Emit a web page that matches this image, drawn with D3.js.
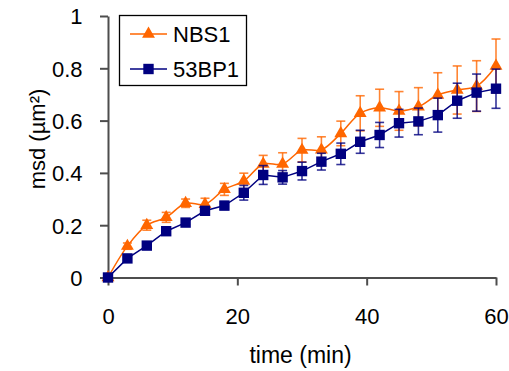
<!DOCTYPE html>
<html><head><meta charset="utf-8">
<script src="https://cdn.jsdelivr.net/npm/d3@7"></script>
<style>
html,body{margin:0;padding:0;background:#fff;}
svg{display:block;font-family:"Liberation Sans",Arial,sans-serif;}
</style></head>
<body><svg id="c" width="509" height="371"></svg>
<script>
const times = [0,3,6,9,12,15,18,21,24,27,30,33,36,39,42,45,48,51,54,57,60];
const nbs1 = [0,0.12,0.20,0.23,0.284,0.28,0.337,0.369,0.434,0.434,0.487,0.488,0.551,0.628,0.649,0.637,0.653,0.698,0.717,0.732,0.809];
const nbs1Err = [0,0.012,0.019,0.019,0.016,0.023,0.023,0.03,0.033,0.043,0.045,0.05,0.047,0.067,0.071,0.074,0.073,0.085,0.092,0.097,0.103];
const bp53 = [0,0.073,0.122,0.177,0.21,0.255,0.275,0.324,0.392,0.383,0.407,0.443,0.473,0.519,0.545,0.59,0.597,0.621,0.676,0.707,0.722];
const bp53Err = [0,0.005,0.006,0.007,0.008,0.01,0.015,0.028,0.036,0.026,0.034,0.032,0.041,0.044,0.048,0.053,0.051,0.065,0.067,0.071,0.075];
const xTicks = [0,20,40,60];
const yTicks = [0,0.2,0.4,0.6,0.8,1];
const yTickLabels = ["0","0.2","0.4","0.6","0.8","1"];
const seriesNames = ["NBS1","53BP1"];

const svg = d3.select("#c");
const x = d3.scaleLinear().domain([0,60]).range([108,496]);
const y = d3.scaleLinear().domain([0,1]).range([277.5,16]);
const axisColor = "#4d4d4d";
const orange = "#FF6600", navy = "#000080";

// axes
const yAxis = svg.append("g").attr("transform","translate(108,0)")
  .call(d3.axisLeft(y).tickValues(yTicks).tickFormat((d,i)=>yTickLabels[i]).tickSize(8).tickSizeOuter(0).tickPadding(17.5));
const xAxis = svg.append("g").attr("transform","translate(0,277.5)")
  .call(d3.axisBottom(x).tickValues(xTicks).tickFormat(d3.format("d")).tickSize(8).tickSizeOuter(0).tickPadding(23));
[xAxis,yAxis].forEach(g=>{
  g.selectAll("path.domain").attr("stroke",axisColor).attr("stroke-width",2);
  g.selectAll(".tick line").attr("stroke",axisColor).attr("stroke-width",2);
  g.selectAll(".tick text").attr("fill","#000").style("font-size","22px").style("font-family","Liberation Sans, Arial, sans-serif");
});
yAxis.selectAll(".tick text").attr("dy","0.36em");

// titles
svg.append("text").attr("x",300.5).attr("y",363).attr("text-anchor","middle")
  .style("font-size","23px").text("time (min)");
svg.append("text").attr("transform","translate(45,139) rotate(-90)").attr("text-anchor","middle")
  .style("font-size","22px").text("msd (µm²)");

function drawSeries(vals, errs, color, curve, marker){
  const data = times.map((t,i)=>({t, v:vals[i], e:errs[i]}));
  const g = svg.append("g");
  // error bars
  const eb = g.selectAll("g.eb").data(data.filter(d=>d.e>0)).enter().append("g")
    .attr("stroke",color).attr("stroke-width",1.6).attr("stroke-opacity",0.8);
  eb.append("line").attr("x1",d=>x(d.t)).attr("x2",d=>x(d.t)).attr("y1",d=>y(d.v-d.e)).attr("y2",d=>y(d.v+d.e));
  eb.append("line").attr("x1",d=>x(d.t)-4.5).attr("x2",d=>x(d.t)+4.5).attr("y1",d=>y(d.v+d.e)).attr("y2",d=>y(d.v+d.e));
  eb.append("line").attr("x1",d=>x(d.t)-4.5).attr("x2",d=>x(d.t)+4.5).attr("y1",d=>y(d.v-d.e)).attr("y2",d=>y(d.v-d.e));
  g.append("path").datum(data).attr("fill","none").attr("stroke",color).attr("stroke-width",1.5)
    .attr("d",d3.line().x(d=>x(d.t)).y(d=>y(d.v)).curve(curve));
  g.selectAll("path.m").data(data).enter().append("path").attr("class","m")
    .attr("transform",d=>`translate(${x(d.t)},${y(d.v)})`)
    .attr("d",marker).attr("fill",color);
  return g;
}
const tri = d3.symbol().type(d3.symbolTriangle).size(72)();
const sq = "M-5.2,-5.2H5.2V5.2H-5.2Z";
drawSeries(nbs1, nbs1Err, orange, d3.curveCatmullRom.alpha(0.5), tri);
drawSeries(bp53, bp53Err, navy, d3.curveLinear, sq);

// legend
const lg = svg.append("g");
lg.append("rect").attr("x",119.5).attr("y",15.5).attr("width",127).attr("height",70)
  .attr("fill","#fff").attr("stroke","#000").attr("stroke-width",1.3);
const items = [{name:seriesNames[0],color:orange,m:tri,yy:34},{name:seriesNames[1],color:navy,m:sq,yy:69}];
items.forEach(it=>{
  lg.append("line").attr("x1",130).attr("x2",167).attr("y1",it.yy).attr("y2",it.yy).attr("stroke",it.color).attr("stroke-width",1.5);
  lg.append("path").attr("d",it.m).attr("fill",it.color).attr("transform",`translate(148.5,${it.yy})`);
  lg.append("text").attr("x",173).attr("y",it.yy+7.5).style("font-size","22px").text(it.name);
});
</script></body></html>
